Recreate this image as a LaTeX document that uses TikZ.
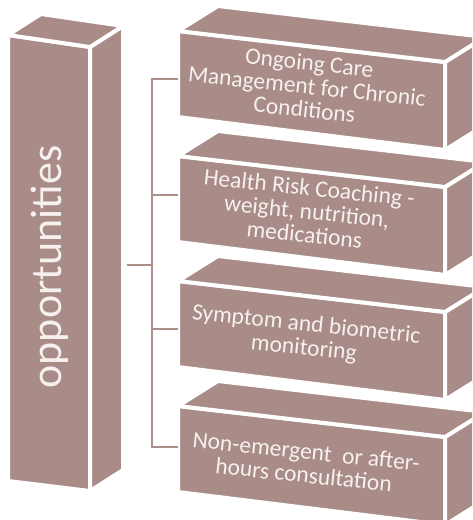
\documentclass[tikz,border=0pt]{standalone}
\usepackage{fontspec}
\setmainfont{Carlito}
\definecolor{boxfill}{RGB}{169,140,135}
\definecolor{boxtext}{RGB}{246,240,239}
\definecolor{wirecol}{RGB}{172,142,137}

% one block on the right: #1 = top of the front face, #2 = name prefix
\newcommand\drawblock[2]{%
  \coordinate (#2-a) at (178,{#1-1});
  \coordinate (#2-b) at (445,{#1+30});
  \coordinate (#2-c) at (445,{#1+118});
  \coordinate (#2-d) at (178,{#1+85});
  \draw[face] (#2-a) -- (#2-b) -- (#2-c) -- (#2-d) -- cycle;
  \draw[face] (#2-b) -- ++(40,-25) -- ++(0,88) -- (#2-c) -- cycle;
  \draw[face] (#2-a) -- ++(40,-25) -- ([shift={(40,-25)}]#2-b) -- (#2-b) -- cycle;
}

\begin{document}
\begin{tikzpicture}[x=1pt,y=-1pt,
  face/.style={fill=boxfill, draw=white, line width=4pt, line join=round},
  itemtext/.style={text=boxtext, font=\fontsize{23.5}{23.5}\selectfont, align=center, rotate=-6, inner sep=0pt},
  wire/.style={draw=wirecol, line width=2pt}]
\useasboundingbox (0,0) rectangle (472,520);
\fill[white] (0,0) rectangle (472,520);
\clip (0,0) rectangle (472,520);

% tall column on the left
\draw[face] (8,35) -- (90,47) -- (90,491) -- (8,481) -- cycle;
\draw[face] (90,47) -- (123,26) -- (123,470) -- (90,491) -- cycle;
\draw[face] (8,35) -- (41,14) -- (123,26) -- (90,47) -- cycle;
\node[rotate=90, text=boxtext, font=\fontsize{44}{44}\selectfont, inner sep=0pt] (opp) at (50,267) {opportunities};

% four blocks on the right
\drawblock{32}{b1}
\drawblock{157}{b2}
\drawblock{282}{b3}
\drawblock{407}{b4}

\node[itemtext] (t1) at (307,86) {Ongoing Care\\Management for Chronic\\Conditions};
\node[itemtext] (t2) at (307,211) {Health Risk Coaching -\\weight, nutrition,\\medications};
\node[itemtext] (t3) at (305,337) {Symptom and biometric\\monitoring};
\node[itemtext] (t4) at (305,463) {Non-emergent\ \ or after-\\hours consultation};

% bracket joining the column to the blocks
\coordinate (oppout) at (127,265);
\coordinate (hub) at (152,265);
\coordinate (in1) at (178,79);
\coordinate (in2) at (178,195);
\coordinate (in3) at (178,329);
\coordinate (in4) at (178,447);
\draw[wire] (oppout) -- (hub);
\draw[wire] (in1) -| (hub);
\draw[wire] (in2) -| (hub);
\draw[wire] (in3) -| (hub);
\draw[wire] (in4) -| (hub);
\end{tikzpicture}
\end{document}
